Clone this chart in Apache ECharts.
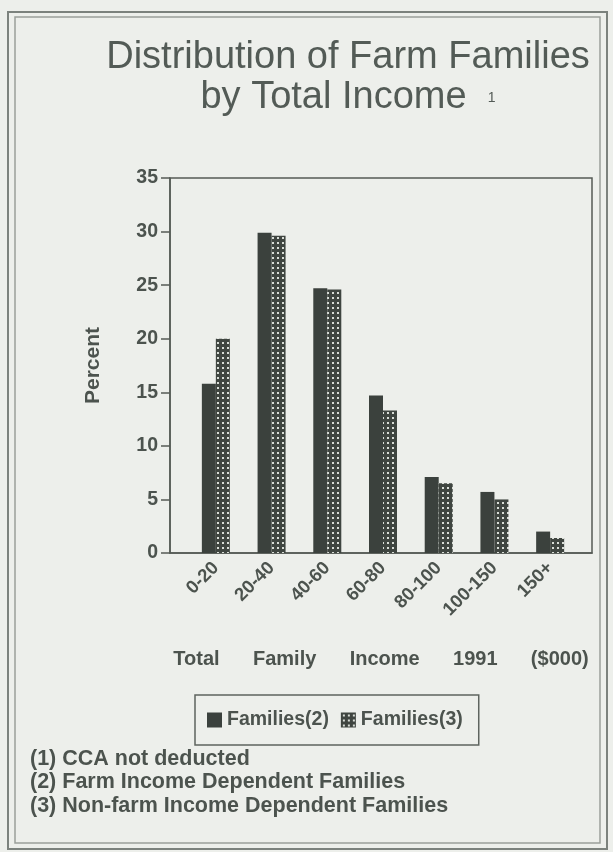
<!DOCTYPE html>
<html>
<head>
<meta charset="utf-8">
<script src="https://cdn.jsdelivr.net/npm/echarts@6/dist/echarts.min.js"></script>
<style>
html,body{margin:0;padding:0;background:#edefeb;}
#c{width:613px;height:852px;}
</style>
</head>
<body>
<div id="c"></div>
<script>
var categories = ['0-20', '20-40', '40-60', '60-80', '80-100', '100-150', '150+'];
var farmDependent = [15.8, 29.9, 24.7, 14.7, 7.1, 5.7, 2.0];
var nonFarmDependent = [20.0, 29.6, 24.6, 13.3, 6.5, 5.0, 1.4];
var seriesNames = ['Families(2)', 'Families(3)'];
var yTicks = [0, 35, 5];
var footnotes = ['(1) CCA not deducted', '(2) Farm Income Dependent Families', '(3) Non-farm Income Dependent Families'];
var axisTitle = 'Total      Family      Income      1991      ($000)';

var ink = '#4c534e';
var dark = '#3b413d';

// dotted pattern for the second series
var pc = document.createElement('canvas');
pc.width = 5; pc.height = 5;
var pctx = pc.getContext('2d');
pctx.fillStyle = '#3f4540';
pctx.fillRect(0, 0, 5, 5);
pctx.fillStyle = '#d9ddd7';
pctx.fillRect(2, 2, 2, 2);
var pattern = { image: pc, repeat: 'repeat' };

var chart = echarts.init(document.getElementById('c'), null, { renderer: 'canvas' });
var option = {
  backgroundColor: '#edefeb',
  animation: false,
  title: [{
    text: 'Distribution of Farm Families\nby Total Income  {sup|1}',
    left: 343,
    top: 33,
    textAlign: 'center',
    textStyle: {
      fontFamily: 'Liberation Sans',
      fontSize: 38,
      fontWeight: 'normal',
      color: '#535b56',
      lineHeight: 40,
      rich: {
        sup: { fontSize: 14, fontFamily: 'Liberation Sans', color: '#535b56', verticalAlign: 'middle', lineHeight: 40 }
      }
    }
  }, {
    text: footnotes.join('\n'),
    left: 25,
    top: 742,
    textStyle: {
      fontFamily: 'Liberation Sans',
      fontSize: 21.5,
      fontWeight: 'bold',
      color: ink,
      lineHeight: 23.5
    }
  }],
  graphic: [
    { type: 'rect', shape: { x: 8, y: 12, width: 599, height: 837 }, style: { fill: 'none', stroke: '#7c827d', lineWidth: 2 }, silent: true },
    { type: 'rect', shape: { x: 15, y: 17, width: 585, height: 826 }, style: { fill: 'none', stroke: '#9ba09b', lineWidth: 1.5 }, silent: true }
  ],
  legend: {
    data: seriesNames,
    left: 195,
    top: 695,
    orient: 'horizontal',
    itemWidth: 15,
    itemHeight: 15,
    itemGap: 12,
    padding: [15, 16, 15, 12],
    borderColor: '#5e645f',
    borderWidth: 1.5,
    icon: 'rect',
    textStyle: {
      fontFamily: 'Liberation Sans',
      fontSize: 19.5,
      fontWeight: 'bold',
      color: ink
    }
  },
  grid: [
    { left: 170, right: 21, top: 178, bottom: 299, show: true, borderColor: '#555b56', borderWidth: 1.5, backgroundColor: 'transparent' },
    { left: 188, right: 35, top: 178, bottom: 299 }
  ],
  xAxis: [{
    gridIndex: 0,
    type: 'value',
    min: 0, max: 1,
    axisLine: { show: true, lineStyle: { color: '#555b56', width: 1.5 } },
    axisTick: { show: false },
    axisLabel: { show: false },
    splitLine: { show: false },
    name: axisTitle,
    nameLocation: 'middle',
    nameGap: 96,
    nameTextStyle: { fontFamily: 'Liberation Sans', fontSize: 20, fontWeight: 'bold', color: ink }
  }, {
    gridIndex: 1,
    type: 'category',
    data: categories,
    axisLine: { show: false },
    axisTick: { show: false },
    axisLabel: {
      rotate: 45,
      interval: 0,
      margin: 12,
      fontFamily: 'Liberation Sans',
      fontSize: 18.5,
      fontWeight: 'bold',
      color: ink
    }
  }],
  yAxis: [{
    gridIndex: 0,
    type: 'value',
    min: yTicks[0], max: yTicks[1], interval: yTicks[2],
    axisLine: { show: true, lineStyle: { color: '#555b56', width: 1.5 } },
    axisTick: { show: true, length: 9, lineStyle: { color: '#555b56', width: 1.5 } },
    axisLabel: { margin: 12, fontFamily: 'Liberation Sans', fontSize: 19.5, fontWeight: 'bold', color: ink },
    splitLine: { show: false },
    name: 'Percent',
    nameLocation: 'middle',
    nameRotate: 90,
    nameGap: 66,
    nameTextStyle: { fontFamily: 'Liberation Sans', fontSize: 21, fontWeight: 'bold', color: ink }
  }, {
    gridIndex: 1,
    type: 'value',
    min: yTicks[0], max: yTicks[1], interval: yTicks[2],
    show: false,
    splitLine: { show: false }
  }],
  series: [{
    name: seriesNames[0],
    type: 'bar',
    xAxisIndex: 1, yAxisIndex: 1,
    data: farmDependent,
    barWidth: 14,
    barGap: '0%',
    itemStyle: { color: dark }
  }, {
    name: seriesNames[1],
    type: 'bar',
    xAxisIndex: 1, yAxisIndex: 1,
    data: nonFarmDependent,
    barWidth: 14,
    barGap: '0%',
    itemStyle: { color: pattern }
  }]
};
chart.setOption(option);
</script>
</body>
</html>
